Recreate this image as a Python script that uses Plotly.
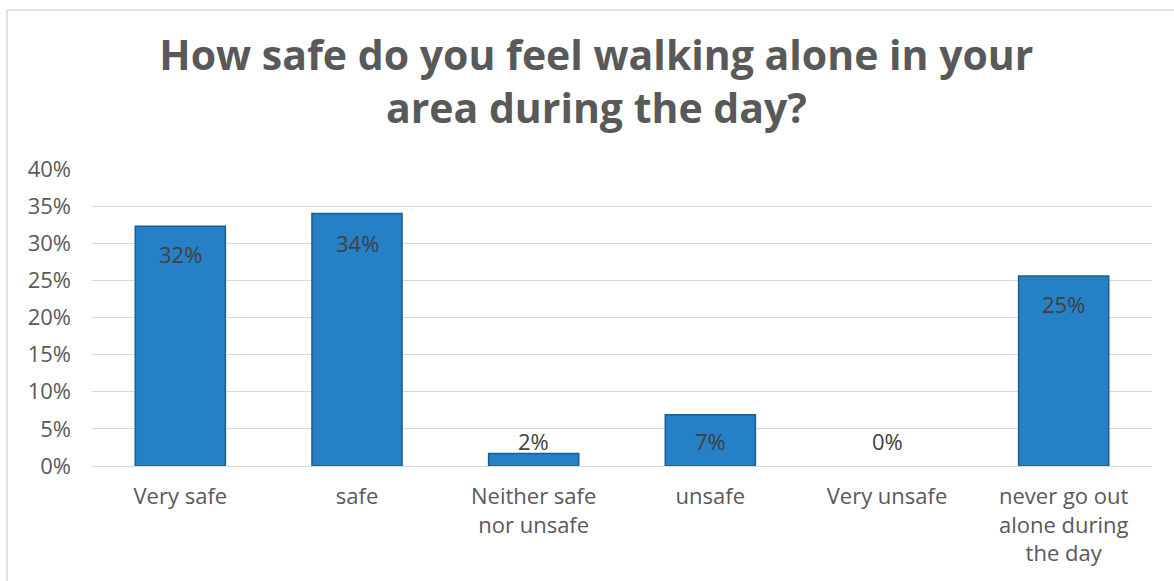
import plotly.graph_objects as go

categories = ["Very safe", "safe", "Neither safe<br>nor unsafe", "unsafe", "Very unsafe",
              "never go out<br>alone during<br>the day"]
values = [32.3, 34.0, 1.7, 6.9, 0.0, 25.6]
value_labels = ["32%", "34%", "2%", "7%", "0%", "25%"]
# vertical offset (px) of each value label from the top of its bar
label_offsets = [-28, -29, 12, -26, 25, -28]
y_ticks = [0, 5, 10, 15, 20, 25, 30, 35, 40]
y_tick_labels = [f"{t}%" for t in y_ticks]

FONT = "'Open Sans', Lato, sans-serif"
GREY = "#595959"

fig = go.Figure(
    go.Bar(
        x=categories,
        y=values,
        marker=dict(
            color="#2680C6",
            line=dict(color="#1F5C8E", width=[0 if v == 0 else 1.5 for v in values]),
        ),
        hoverinfo="skip",
    )
)

for cat, val, lab, off in zip(categories, values, value_labels, label_offsets):
    fig.add_annotation(
        x=cat,
        y=val,
        text=lab,
        showarrow=False,
        yanchor="middle",
        yshift=off,
        font=dict(family=FONT, size=22, color="#404040"),
    )

W, H = 1174, 581
L, R, T, B = 92, 22, 169, 115
plot_w, plot_h = W - L - R, H - T - B

fig.update_layout(
    width=W,
    height=H,
    margin=dict(l=L, r=R, t=T, b=B),
    paper_bgcolor="white",
    plot_bgcolor="white",
    bargap=0.49,
    showlegend=False,
    font=dict(family=FONT, color=GREY),
    title=dict(
        text="<b>How safe do you feel walking alone in your<br>area during the day?</b>",
        font=dict(family=FONT, size=41, color=GREY),
        xref="container",
        yref="container",
        x=0.508,
        y=1 - 70 / H,
        xanchor="center",
        yanchor="middle",
    ),
    xaxis=dict(
        showgrid=False,
        showline=False,
        ticks="",
        tickfont=dict(family=FONT, size=22, color=GREY),
        ticklabelstandoff=15,
    ),
    yaxis=dict(
        range=[0, 40],
        tickvals=y_ticks,
        ticktext=y_tick_labels,
        showgrid=True,
        gridcolor="#D9D9D9",
        gridwidth=1.2,
        zeroline=True,
        zerolinecolor="#D9D9D9",
        zerolinewidth=1.2,
        showline=False,
        ticks="",
        tickfont=dict(family=FONT, size=22, color=GREY),
        ticklabelstandoff=20,
    ),
)

# light frame around the chart area
fig.add_shape(
    type="rect",
    xref="paper",
    yref="paper",
    x0=(7 - L) / plot_w,
    x1=(W + 20 - L) / plot_w,
    y0=-(H + 20 - (T + plot_h)) / plot_h,
    y1=(T + plot_h - 10) / plot_h,
    line=dict(color="#D9D9D9", width=1.5),
    fillcolor="rgba(0,0,0,0)",
    layer="below",
)

fig.write_html("out.html")
